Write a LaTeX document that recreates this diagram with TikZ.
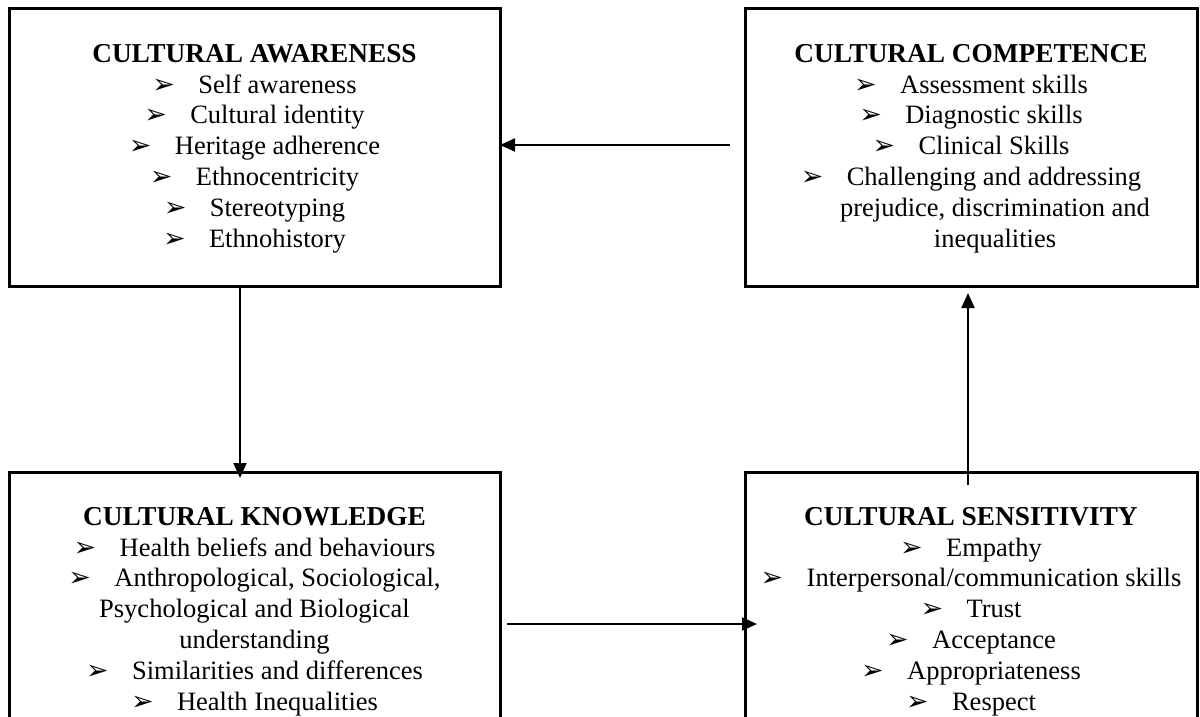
\documentclass[tikz,border=0pt]{standalone}
\usepackage{fontspec}
\setmainfont{Liberation Serif}
\newfontfamily\dejavu{DejaVu Sans}
\usetikzlibrary{arrows.meta}
\newcommand{\bl}{\makebox[46pt][l]{\fontsize{27}{27}\selectfont\dejavu ➢}}
\newcommand{\hd}[1]{{\fontsize{27.3}{30.8}\selectfont\bfseries #1}}
\begin{document}
\begin{tikzpicture}[x=1pt,y=-1pt,
  box/.style={draw, line width=3pt, rectangle, inner sep=0pt, outer sep=0pt},
  txt/.style={align=center, inner sep=0pt, anchor=north, font=\fontsize{26.5}{30.8}\selectfont},
  arr/.style={line width=2pt, -{Triangle[length=15pt,width=13pt]}}]
\useasboundingbox (0,0) rectangle (1200,717);
\clip (0,0) rectangle (1200,717);
\node[box, minimum width=491pt, minimum height=277pt] (aw) at (254.5,147.5) {};
\node[box, minimum width=452pt, minimum height=277pt] (co) at (971,147.5) {};
\node[box, minimum width=491pt, minimum height=300pt] (kn) at (254.5,622) {};
\node[box, minimum width=452pt, minimum height=300pt] (se) at (971,622) {};

\node[txt] (awt) at (254.5,44) {\hd{CULTURAL AWARENESS}\\ \bl Self awareness\\ \bl Cultural identity\\ \bl Heritage adherence\\ \bl Ethnocentricity\\ \bl Stereotyping\\ \bl Ethnohistory};
\node[txt] (cot) at (971,44) {\hd{CULTURAL COMPETENCE}\\ \bl Assessment skills\\ \bl Diagnostic skills\\ \bl Clinical Skills\\ \bl Challenging and addressing\\ \hspace*{48pt}prejudice, discrimination and\\ \hspace*{48pt}inequalities};
\node[txt] (knt) at (254.5,507) {\hd{CULTURAL KNOWLEDGE}\\ \bl Health beliefs and behaviours\\ \bl Anthropological, Sociological,\\ Psychological and Biological\\ understanding\\ \bl Similarities and differences\\ \bl Health Inequalities};
\node[txt] (set) at (971,507) {\hd{CULTURAL SENSITIVITY}\\ \bl Empathy\\ \bl Interpersonal/communication skills\\ \bl Trust\\ \bl Acceptance\\ \bl Appropriateness\\ \bl Respect};

\draw[arr] ([xshift=-15pt,yshift=2.5pt]co.west) -- ([yshift=2.5pt]aw.east);
\draw[arr] ([xshift=-14.5pt]aw.south) -- ([xshift=-14.5pt,yshift=-6pt]kn.north);
\draw[arr] ([xshift=7pt,yshift=-152pt]kn.north east) -- ([xshift=12pt,yshift=-152pt]se.north west);
\draw[arr] ([xshift=-3pt,yshift=-13pt]se.north) -- ([xshift=-3pt,yshift=-7pt]co.south);
\end{tikzpicture}
\end{document}
